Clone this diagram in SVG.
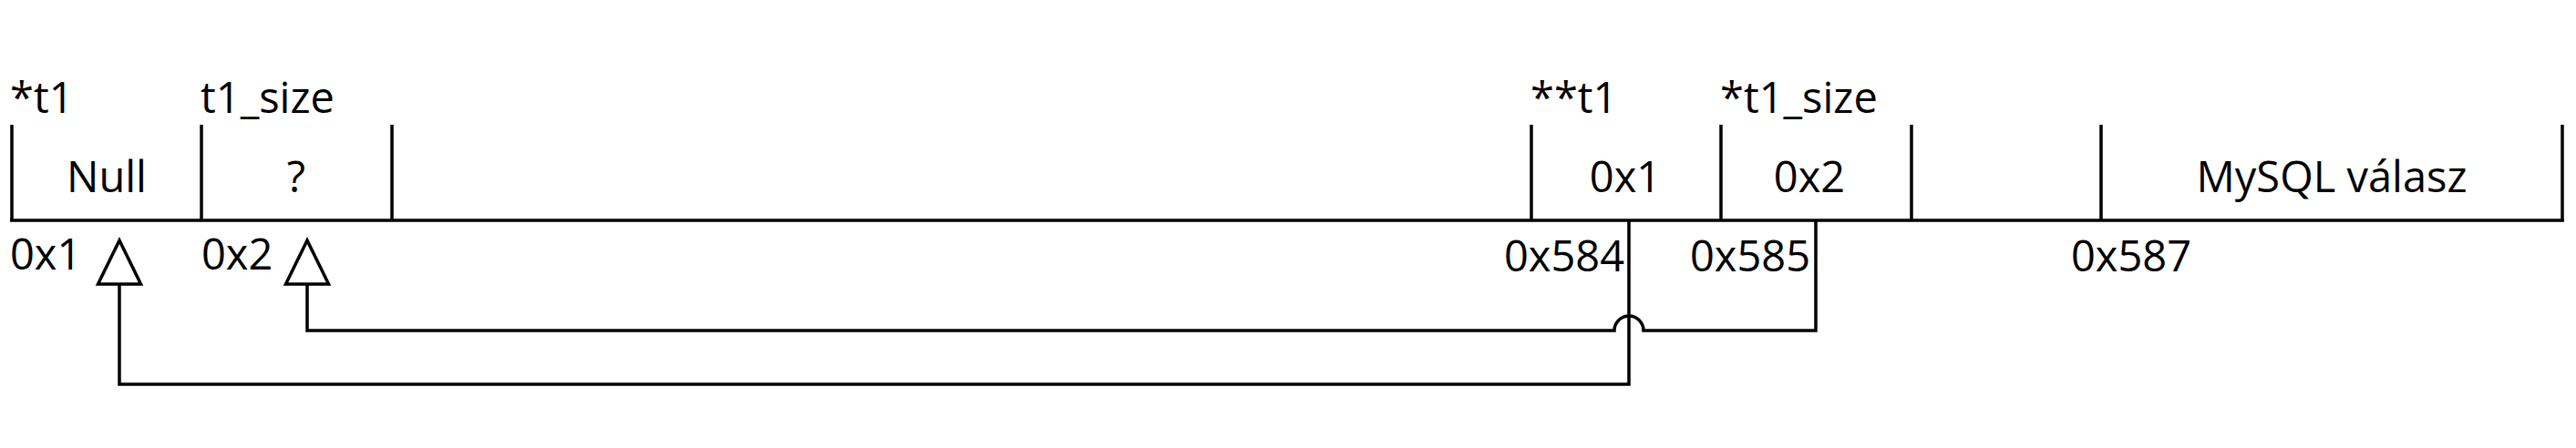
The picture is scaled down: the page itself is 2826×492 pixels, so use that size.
<svg xmlns="http://www.w3.org/2000/svg" width="2826" height="492" viewBox="0 0 2826 492">
  <style>
    .ln { stroke: #000; stroke-width: 3.5; fill: none; }
    .tx { font-family: "Open Sans", "Noto Sans", sans-serif; font-size: 47px; fill: #000; }
    .mid { text-anchor: middle; }
  </style>
  <defs>
    <marker id="hollow" markerUnits="userSpaceOnUse" viewBox="-4 -4 56 56" refX="48" refY="23.5" markerWidth="56" markerHeight="56" orient="auto" overflow="visible">
      <path d="M0,0 L48,23.5 L0,47 Z" fill="#fff" stroke="#000" stroke-width="3.5" stroke-linejoin="miter"/>
    </marker>
  </defs>
  <rect width="2826" height="492" fill="#fff"/>

  <g id="memory-bar">
    <line class="ln" x1="11" y1="242" x2="2813" y2="242"/>
    <line class="ln" x1="13" y1="137" x2="13" y2="242"/>
    <line class="ln" x1="221" y1="137" x2="221" y2="242"/>
    <line class="ln" x1="430" y1="137" x2="430" y2="242"/>
    <line class="ln" x1="1680" y1="137" x2="1680" y2="242"/>
    <line class="ln" x1="1888" y1="137" x2="1888" y2="242"/>
    <line class="ln" x1="2097" y1="137" x2="2097" y2="242"/>
    <line class="ln" x1="2305" y1="137" x2="2305" y2="242"/>
    <line class="ln" x1="2811" y1="137" x2="2811" y2="242"/>
  </g>

  <g id="cell-t1">
    <text class="tx" x="11" y="124">*t1</text>
    <text class="tx mid" x="117" y="211">Null</text>
    <text class="tx" x="11" y="296">0x1</text>
  </g>
  <g id="cell-t1-size">
    <text class="tx" x="220" y="124">t1_size</text>
    <text class="tx mid" x="325" y="211">?</text>
    <text class="tx" x="221" y="296">0x2</text>
  </g>
  <g id="cell-ptr-t1">
    <text class="tx" x="1679" y="124">**t1</text>
    <text class="tx mid" x="1783" y="211">0x1</text>
    <text class="tx" x="1650" y="298">0x584</text>
  </g>
  <g id="cell-ptr-t1-size">
    <text class="tx" x="1887" y="124">*t1_size</text>
    <text class="tx mid" x="1985" y="211">0x2</text>
    <text class="tx" x="1854" y="298">0x585</text>
  </g>
  <g id="cell-empty"></g>
  <g id="cell-mysql">
    <text class="tx mid" x="2558" y="211">MySQL válasz</text>
    <text class="tx" x="2272" y="298">0x587</text>
  </g>

  <g id="connectors">
    <path class="ln" d="M1787,242 V422 H131 V264" marker-end="url(#hollow)"/>
    <path class="ln" d="M1992,242 V363 H1803 A16,16 0 0 0 1771,363 H337 V264" marker-end="url(#hollow)"/>
  </g>
</svg>
